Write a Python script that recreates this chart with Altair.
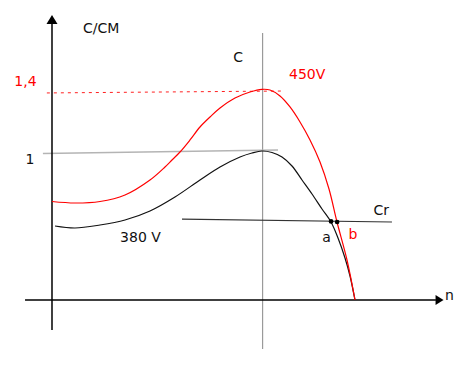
import altair as alt
import pandas as pd

# speed n (0 = standstill, 1 = synchronous) and torque ratio C/CM
black_n = [0.0099, 0.0759, 0.1584, 0.2409, 0.3234, 0.4059, 0.4884, 0.5545, 0.6205,
           0.6601, 0.6931, 0.7261, 0.7591, 0.7921, 0.8251, 0.8581, 0.8911, 0.9208,
           0.9439, 0.9670, 0.9835, 1.0]
black_t = [0.5000, 0.4865, 0.5068, 0.5405, 0.6014, 0.6959, 0.8108, 0.8986, 0.9662,
           0.9932, 1.0068, 0.9966, 0.9662, 0.9054, 0.8108, 0.7162, 0.6149, 0.5270,
           0.4189, 0.2838, 0.1622, 0.0]

red_n = [0.0, 0.0759, 0.1584, 0.2409, 0.3234, 0.3729, 0.3960, 0.4224, 0.4554, 0.4884,
         0.5215, 0.5545, 0.6040, 0.6535, 0.6931, 0.7195, 0.7525, 0.7855, 0.8185,
         0.8515, 0.8845, 0.9142, 0.9406, 0.9736, 1.0]
red_t = [0.6655, 0.6554, 0.6655, 0.7095, 0.8108, 0.8986, 0.9459, 1.0, 1.0811, 1.1689,
         1.2365, 1.2973, 1.3649, 1.4054, 1.4236, 1.4189, 1.3784, 1.3041, 1.2027,
         1.0811, 0.9324, 0.75, 0.5270, 0.2703, 0.0]

# guide segments: (n1, t1, n2, t2)
axis_segments = [(0.0, -0.203, 0.0, 1.865), (-0.089, 0.0, 1.267, 0.0)]
c_line = [(0.695, -0.331, 0.695, 1.804)]
one_line = [(-0.030, 0.990, 0.746, 1.014)]
max_line = [(-0.017, 1.399, 0.759, 1.412)]
cr_line = [(0.429, 0.547, 1.122, 0.527)]

# operating points a and b
op_n = [0.921, 0.941]
op_t = [0.531, 0.527]

# labels
black_labels = ["C/CM", "1", "C", "380 V", "Cr", "a", "n"]
black_lab_n = [0.162, -0.0726, 0.614, 0.292, 1.087, 0.906, 1.312]
black_lab_t = [1.804, 0.919, 1.608, 0.392, 0.574, 0.392, 0.0]
red_labels = ["1,4", "450V", "b"]
red_lab_n = [-0.0875, 0.842, 0.993]
red_lab_t = [1.446, 1.493, 0.412]

xs = alt.Scale(domain=[-0.14521, 1.34653], nice=False, zero=False)
ys = alt.Scale(domain=[-0.38514, 1.97297], nice=False, zero=False)
X = lambda f: alt.X(f, type="quantitative", scale=xs, axis=None)
Y = lambda f: alt.Y(f, type="quantitative", scale=ys, axis=None)


def seg_df(segs):
    return pd.DataFrame(segs, columns=["n1", "t1", "n2", "t2"])


def rules(segs, **style):
    return alt.Chart(seg_df(segs)).mark_rule(**style).encode(
        x=X("n1"), y=Y("t1"), x2="n2", y2="t2")


layers = [
    rules(c_line, color="#9a9a9a", strokeWidth=1.2),
    rules(one_line, color="#b4b4b4", strokeWidth=1.5),
    rules(max_line, color="#ff2020", strokeWidth=1, strokeDash=[3, 4]),
    rules(cr_line, color="#333333", strokeWidth=1.2),
    rules(axis_segments, color="black", strokeWidth=1.5),
]

curves = pd.concat([
    pd.DataFrame({"n": black_n, "t": black_t, "s": "380"}),
    pd.DataFrame({"n": red_n, "t": red_t, "s": "450"}),
])
layers.append(
    alt.Chart(curves).mark_line(interpolate="catmull-rom", strokeWidth=1.2).encode(
        x=X("n"), y=Y("t"), detail="s:N",
        color=alt.Color("s:N", scale=alt.Scale(domain=["380", "450"], range=["#111111", "#ff0000"]), legend=None),
    )
)

arrows = pd.DataFrame({"n": [0.0, 1.279], "t": [1.895, 0.0], "k": ["up", "right"]})
layers.append(
    alt.Chart(arrows[arrows.k == "up"]).mark_point(
        shape="M-1,0.82L1,0.82L0,-0.82Z", size=121, filled=True, color="black", opacity=1
    ).encode(x=X("n"), y=Y("t"))
)
layers.append(
    alt.Chart(arrows[arrows.k == "right"]).mark_point(
        shape="M-0.8,-1L0.8,0L-0.8,1Z", size=100, filled=True, color="black", opacity=1
    ).encode(x=X("n"), y=Y("t"))
)

layers.append(
    alt.Chart(pd.DataFrame({"n": op_n, "t": op_t})).mark_point(
        shape="circle", size=22, filled=True, color="black", opacity=1
    ).encode(x=X("n"), y=Y("t"))
)

layers.append(
    alt.Chart(pd.DataFrame({"n": black_lab_n, "t": black_lab_t, "l": black_labels})).mark_text(
        font="DejaVu Sans", fontSize=14, color="#111111", align="center", baseline="alphabetic"
    ).encode(x=X("n"), y=Y("t"), text="l:N")
)
layers.append(
    alt.Chart(pd.DataFrame({"n": red_lab_n, "t": red_lab_t, "l": red_labels})).mark_text(
        font="DejaVu Sans", fontSize=14, color="#ff0000", align="center", baseline="alphabetic"
    ).encode(x=X("n"), y=Y("t"), text="l:N")
)

chart = alt.layer(*layers).properties(
    width=452, height=349, autosize=alt.AutoSizeParams(type="none"), padding=0,
    background="white",
).configure_view(stroke=None)

chart.save("out.html", embed_options={"renderer": "svg", "actions": False})
